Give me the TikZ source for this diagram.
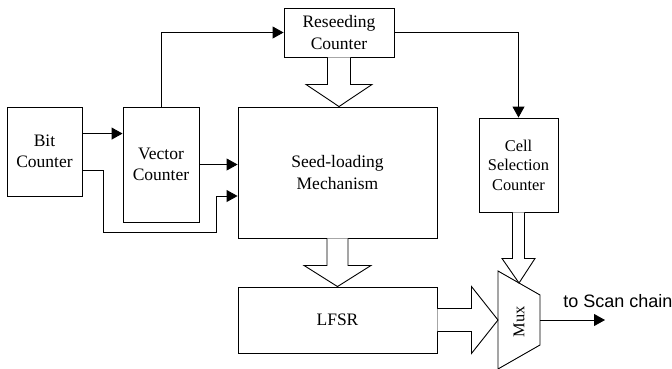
\documentclass[tikz,border=0pt]{standalone}
\usepackage{fontspec}
\setmainfont{Liberation Serif}
\newfontfamily\arialf{Liberation Sans}
\usetikzlibrary{arrows.meta,calc}
\begin{document}
\begin{tikzpicture}[x=1pt,y=-1pt,
  line width=0.9pt,
  box/.style={draw,fill=white,inner sep=0pt,align=center,
    font=\fontsize{17.5}{21.5}\selectfont},
  smallbox/.style={box,font=\fontsize{16.4}{19.5}\selectfont},
  arr/.style={-{Triangle[length=11pt,width=12pt]}},
  block/.style={draw,fill=white,line join=miter}]
\useasboundingbox (0,0) rectangle (672,368);

% counters and main blocks
\node[box,minimum width=75pt,minimum height=89pt] (bit) at (44.5,151.5) {Bit\\Counter};
\node[box,minimum width=76pt,minimum height=115pt] (vec) at (161,164.5) {Vector\\Counter};
\node[box,minimum width=199pt,minimum height=131pt] (seed) at (337.5,172.5) {Seed-loading\\Mechanism};
\node[box,minimum width=110pt,minimum height=49pt] (res) at (339,32.5) {Reseeding\\Counter};
\node[smallbox,minimum width=79pt,minimum height=94pt] (cell) at (518.5,165) {Cell\\Selection\\Counter};
\node[box,minimum width=199pt,minimum height=66pt] (lfsr) at (337.5,320) {LFSR};

% multiplexer
\coordinate (mtl) at (498,271);
\coordinate (mtr) at (540,295);
\coordinate (mbr) at (540,345);
\coordinate (mbl) at (498,369);
\draw (mtl) -- (mtr) -- (mbr) -- (mbl) -- cycle;
\node[rotate=90,inner sep=0pt,font=\fontsize{16.4}{19}\selectfont] (mux) at (519,322) {Mux};
\coordinate (muxin) at (498,320);
\coordinate (muxout) at (540,320);
\coordinate (muxtop) at ($(mtl)!0.5!(mtr)$);

% single-bit control lines
\draw[arr] (vec.north) |- (res.west);
\draw[arr] ($(bit.north east)+(0,27)$) coordinate (b1) -- (b1 -| vec.west);
\draw[arr] (vec.east) -- (vec.east -| seed.west);
\coordinate (s2) at ($(seed.west)+(0,23.5)$);
\draw[arr] ($(bit.south east)+(0,-26)$) -- ++(21,0) |- ($(s2)+(-21,36)$) |- (s2);
\draw[arr] (res.east) -| (cell.north);

% wide data paths
\draw[block] ($(res.south)+(-11.5,0)$) -- ++(0,27) -- ++(-21.5,0)
  -- (res.south |- seed.north) -- ($(res.south)+(33,27)$) -- ++(-21.5,0)
  -- ($(res.south)+(11.5,0)$);
\draw[block] ($(seed.south)+(-10.5,0)$) -- ++(0,27) -- ++(-23,0)
  -- (lfsr.north) -- ($(seed.south)+(33.5,27)$) -- ++(-23,0)
  -- ($(seed.south)+(10.5,0)$);
\draw[block] ($(lfsr.east)+(0,-11.5)$) -- ++(34,0) -- ++(0,-22)
  -- (muxin) -- ($(lfsr.east)+(34,33.5)$) -- ++(0,-22)
  -- ($(lfsr.east)+(0,11.5)$);
\draw[block] ($(cell.south)+(-6,0)$) -- ++(0,46) -- ++(-10.5,0)
  -- (muxtop) -- ($(cell.south)+(16.5,46)$) -- ++(-10.5,0)
  -- ($(cell.south)+(6,0)$);

% output
\coordinate (scan) at (605,320);
\draw[arr] (muxout) -- (scan);
\node[anchor=base west,inner sep=0pt,font=\arialf\fontsize{18}{21}\selectfont] (scantxt) at (563,307) {to Scan chain};
\end{tikzpicture}
\end{document}
